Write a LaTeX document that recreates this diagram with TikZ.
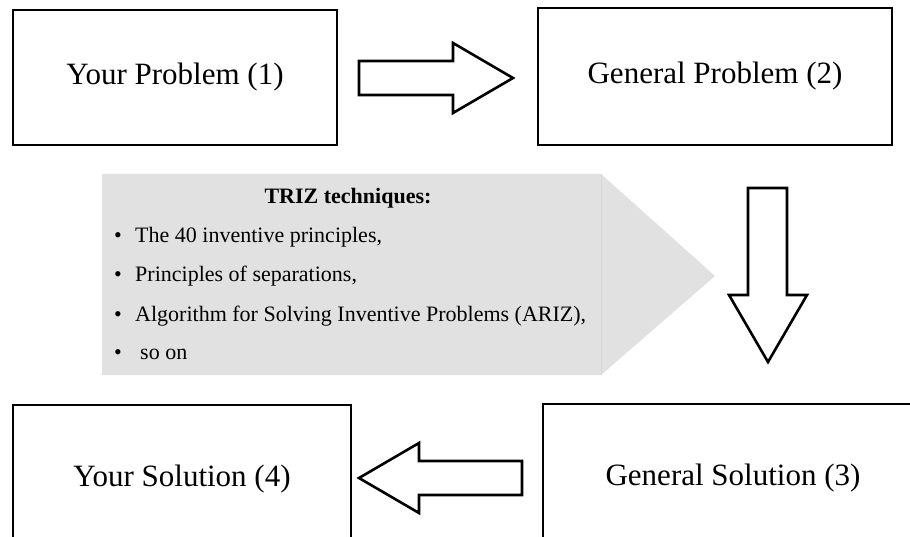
\documentclass[tikz,border=0pt]{standalone}
\usepackage{fontspec}
\setmainfont{Liberation Serif}
\begin{document}
\begin{tikzpicture}[x=1pt,y=-1pt,
  stagebox/.style={draw=black,line width=2.7pt,inner sep=0pt,
    font=\fontsize{31}{31}\selectfont},
  blockarrow/.style={draw=black,fill=white,line width=2.6pt,line join=miter},
  panel/.style={fill=panelgray},
  itemtext/.style={anchor=base west,inner sep=0pt,font=\fontsize{22}{22}\selectfont},
  bulletmark/.style={anchor=base,inner sep=0pt,font=\fontsize{22}{22}\selectfont}]
\definecolor{panelgray}{HTML}{E1E1E1}
\definecolor{panelseam}{HTML}{D6D6D6}
\useasboundingbox (0,0) rectangle (910,537);
\begin{scope}
\clip (0,0) rectangle (910,537);

% the four stages
\node[stagebox,minimum width=324pt,minimum height=135pt] (p1) at (175,77.5) {Your Problem (1)};
\node[stagebox,minimum width=354pt,minimum height=137pt] (p2) at (715,76.5) {General Problem (2)};
\node[stagebox,minimum width=380pt,minimum height=149pt] (s3) at (733,478.5) {General Solution (3)};
\node[stagebox,minimum width=338pt,minimum height=148pt] (s4) at (182,479) {Your Solution (4)};

% TRIZ techniques panel
\fill[panel] (102,174) -- (601,174) -- (715,276) -- (601,375) -- (102,375) -- cycle;
\draw[panelseam,line width=0.6pt] (601,174) -- (601,375);
\node[anchor=base,inner sep=0pt,font=\fontsize{22}{22}\selectfont\bfseries] (ttl) at (348,204) {TRIZ techniques:};
\node[bulletmark] (b1) at (118,243) {\textbullet};
\node[itemtext] (i1) at (135,243) {The 40 inventive principles,};
\node[bulletmark] (b2) at (118,282) {\textbullet};
\node[itemtext] (i2) at (135,282) {Principles of separations,};
\node[bulletmark] (b3) at (118,321) {\textbullet};
\node[itemtext] (i3) at (135,321) {Algorithm for Solving Inventive Problems (ARIZ),};
\node[bulletmark] (b4) at (118,359) {\textbullet};
\node[itemtext] (i4) at (140,359) {so on};

% block arrows between the stages
\draw[blockarrow] (359,61) -- (453,61) -- (453,43) -- (513,78) -- (453,113) -- (453,95) -- (359,95) -- cycle;
\draw[blockarrow] (748,188) -- (787,188) -- (787,295) -- (807,295) -- (768,362) -- (729,295) -- (748,295) -- cycle;
\draw[blockarrow] (522,461) -- (419,461) -- (419,443) -- (359,478) -- (419,513) -- (419,495) -- (522,495) -- cycle;
\end{scope}
\end{tikzpicture}
\end{document}
